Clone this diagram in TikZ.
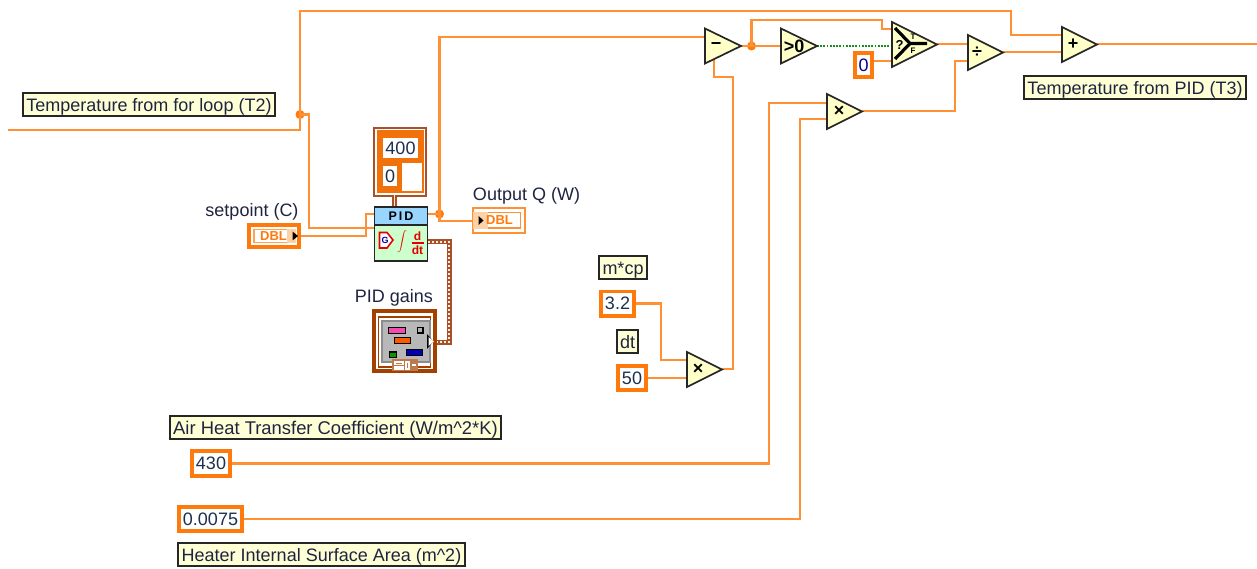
\documentclass[tikz,border=0pt]{standalone}
\usepackage{fontspec}
\setmainfont{Liberation Sans}
\definecolor{wire}{HTML}{FF9033}
\definecolor{orangeb}{HTML}{FF7A0D}
\definecolor{brownw}{HTML}{A8502A}
\definecolor{brownf}{HTML}{A34000}
\definecolor{labelbg}{HTML}{FFFFD6}
\definecolor{gatebg}{HTML}{FFFFC8}
\definecolor{inktext}{HTML}{1E2440}
\definecolor{numtext}{HTML}{1C3050}
\tikzset{
  wireline/.style={draw=wire,line width=2.4pt},
  boolline/.style={draw=green!50!black!90,line width=1.8pt,dash pattern=on 1.8pt off 1.4pt},
  clusterline/.style={draw=brownw,line width=5pt},
  clusterdots/.style={draw=white!85!orange,line width=1.8pt,dash pattern=on 2pt off 2pt},
  junction/.style={circle,fill=orangeb,draw=none,minimum size=9pt,inner sep=0pt},
  txt/.style={font=\fontsize{18}{20}\selectfont,text=inktext,inner sep=0pt,text height=15.5pt,text depth=2pt},
  labelbox/.style={txt,draw=black!85,line width=1.6pt,fill=labelbg,inner sep=0pt,minimum height=23.5pt},
  constbox/.style={font=\fontsize{18}{20}\selectfont,text=numtext,draw=orangeb,line width=3.6pt,fill=white,inner sep=0pt},
  gatebody/.style={draw=black!85,line width=1.7pt,fill=gatebg,line join=miter},
  gatesym/.style={font=\fontsize{18}{18}\selectfont\bfseries,text=black,inner sep=0pt},
  dblbox/.style={font=\fontsize{13}{14}\selectfont\bfseries,text=orangeb,inner sep=0pt},
}
\newcommand{\gatetri}[7]{%
  \coordinate (#1-nw) at (#2,#3-#5);
  \coordinate (#1-sw) at (#2,#3+#5);
  \coordinate (#1-out) at (#2+#4,#3);
  \draw[gatebody] (#1-nw) -- (#1-out) -- (#1-sw) -- cycle;
  \node[gatesym] (#1) at (#6,#3) {#7};
}
\begin{document}
\begin{tikzpicture}[x=1pt,y=-1pt]
\useasboundingbox (0,0) rectangle (1257,569);

% free ends and gate ports
\coordinate (inT) at (8,130);
\coordinate (outT) at (1257,44);
\coordinate (subA) at (705,37);
\coordinate (subB) at (714,58);
\coordinate (selA) at (892,29);
\coordinate (selB) at (892,46);
\coordinate (selC) at (892,61);
\coordinate (divA) at (968,44);
\coordinate (divB) at (968,61);
\coordinate (addA) at (1062,35);
\coordinate (addB) at (1062,52);
\coordinate (mulA) at (827,103);
\coordinate (mulB) at (827,119);
\coordinate (dtmA) at (687,360);
\coordinate (dtmB) at (687,378);
\coordinate (pidA) at (374,228);
\coordinate (pidB) at (374,214);
\coordinate (pidOut) at (428,214);
\coordinate (pidC) at (428,242);
\coordinate (gainOut) at (433,342);
\coordinate (spOut) at (298,236);
\coordinate (qIn) at (473,221);
\coordinate (rangeOut) at (394.5,195);
\coordinate (pidTop) at (394.5,208);

% junctions
\node[junction] (jT) at (300,114.5) {};
\node[junction] (jQ) at (439.5,214) {};
\node[junction] (jS) at (751.5,46) {};

% wires
\draw[wireline] (inT) -- (300,130) -- (jT.center) -- (300,11) -- (1011,11) -- (1011,35) -- (addA);
\draw[wireline] (jT.center) -- (309,114.5) -- (309,228) -- (pidA);
\draw[wireline] (spOut) -- (366,236) -- (366,214) -- (pidB);
\draw[wireline] (pidOut) -- (jQ.center) -- (439.5,37) -- (subA);
\draw[wireline] (jQ.center) -- (439.5,221) -- (qIn);
\draw[wireline] (751.5,46) -- (781,46);
\draw[wireline] (jS.center) -- (751.5,20) -- (882,20) -- (882,29) -- (selA);
\draw[wireline] (741,46) -- (jS.center);
\draw[wireline] (937,44) -- (divA);
\draw[wireline] (1003,52) -- (addB);
\draw[wireline] (1097,44) -- (outT);
\draw[wireline] (862,111) -- (955,111) -- (955,61) -- (divB);
\draw[wireline] (subB) -- (714,77) -- (733,77) -- (733,369) -- (722,369);
\draw[boolline] (817,46) -- (selB);

% constants (wires leave from their right sides)
\node[constbox,minimum width=38.4pt,minimum height=25.4pt] (c430) at (211,463.5) {430};
\node[constbox,minimum width=63.4pt,minimum height=24.4pt] (c0075) at (210.5,519) {0.0075};
\node[constbox,minimum width=33.4pt,minimum height=24.4pt] (c32) at (617.5,303.5) {3.2};
\node[constbox,minimum width=28.4pt,minimum height=24.4pt] (c50) at (632,378) {50};
\node[constbox,minimum width=17.4pt,minimum height=24.4pt,text=blue!55!black] (c0) at (863.5,65) {0};
\draw[wireline] (c430.east) -- (769,463.5) -- (769,103) -- (mulA);
\draw[wireline] (c0075.east) -- (800,519) -- (800,119) -- (mulB);
\draw[wireline] (c32.east) -- (661,303.5) -- (661,360) -- (dtmA);
\draw[wireline] (c50.east) -- (dtmB);
\draw[wireline] (c0.east |- selC) -- (selC);

% gates
\gatetri{sub}{705}{46}{36}{17.5}{716}{−}
\gatetri{gtz}{781}{46}{36}{17.5}{794}{>0}
\gatetri{sel}{892}{44.5}{45}{22.5}{905}{}
\gatetri{div}{968}{52.5}{35}{17.5}{977}{÷}
\gatetri{add}{1062}{44.5}{35}{17.5}{1073}{+}
\gatetri{mul}{827}{111.5}{35}{17.5}{839}{×}
\gatetri{dtm}{687}{369.5}{35}{17.5}{698}{×}

% select glyph
\draw[black,line width=3.2pt] (895,28) -- (910,43.5) -- (927,43.5);
\draw[black,line width=3.2pt] (895,59) -- (910,43.5);
\node[font=\fontsize{13}{14}\selectfont\bfseries,inner sep=0pt] (selQ) at (899.5,45) {?};
\node[font=\fontsize{8}{9}\selectfont\bfseries,inner sep=0pt] (selT) at (913,36.5) {T};
\node[font=\fontsize{8}{9}\selectfont\bfseries,inner sep=0pt] (selF) at (913,50.5) {F};

% labels
\node[labelbox,minimum width=252.5pt] (lT2) at (149,104.5) {Temperature from for loop (T2)};
\node[labelbox,minimum width=222.5pt] (lT3) at (1135,87.5) {Temperature from PID (T3)};
\node[labelbox,minimum width=331.5pt,font=\fontsize{18.4}{20}\selectfont] (lAir) at (335.5,427.5) {Air Heat Transfer Coefficient (W/m\string^2*K)};
\node[labelbox,minimum width=287.5pt] (lHeat) at (321.5,554.5) {Heater Internal Surface Area (m\string^2)};
\node[labelbox,minimum width=48.5pt] (lmcp) at (623,267.5) {m*cp};
\node[labelbox,minimum width=21.5pt] (ldt) at (627.5,341.5) {dt};
\node[txt] (lsp) at (252,210) {setpoint (C)};
\node[txt] (lQ) at (526.5,194) {Output Q (W)};
\node[txt] (lgain) at (394,296) {PID gains};

% range cluster
\node[draw=brownw,line width=1.6pt,fill=white,minimum width=52.5pt,minimum height=68.5pt,inner sep=0pt] (range) at (400,162) {};
\draw[clusterline] (rangeOut) -- (pidTop);
\draw[draw=white!80!orange,line width=1.6pt] (rangeOut) -- (pidTop);
\fill[orangeb!85!brownf] (376.5,130.5) rectangle (423.5,193.5);
\node[font=\fontsize{18}{20}\selectfont,text=numtext,fill=white,minimum width=35pt,minimum height=20pt,inner sep=0pt] (r400) at (400.5,148) {400};
\node[font=\fontsize{18}{20}\selectfont,text=numtext,fill=white,minimum width=14pt,minimum height=20pt,inner sep=0pt] (r0) at (390,176) {0};
\fill[white] (402,163) rectangle (421.5,191.5);

% PID vi
\node[draw=black!85,line width=1.6pt,fill=green!20!white,minimum width=53pt,minimum height=53.5pt,inner sep=0pt] (pid) at (401,234) {};
\node[draw=black!85,line width=1.6pt,fill=blue!40!cyan!40!white,minimum width=53pt,minimum height=18pt,inner sep=0pt,font=\fontsize{12.5}{13}\selectfont\bfseries,text=black] (pidH) at (401,216) {P\,I\,D};
\draw[red!90!black,line width=1.6pt,fill=white] (379.5,232.5) -- (387,232.5) -- (393,240) -- (387,248) -- (379.5,248) -- cycle;
\node[font=\fontsize{9}{10}\selectfont\bfseries,text=blue!70!black,inner sep=0pt] (pidG) at (385,240.5) {G};
\node[text=red!90!black,inner sep=0pt,font=\fontsize{19}{19}\selectfont] (pidI) at (402,242) {$\displaystyle\int$};
\node[text=red!90!black,inner sep=0pt,font=\fontsize{12}{13}\selectfont\bfseries] (pidD) at (417.5,236) {d};
\node[text=red!90!black,inner sep=0pt,font=\fontsize{12}{13}\selectfont\bfseries] (pidDt) at (417.5,250.5) {dt};
\draw[red!90!black,line width=1.3pt] (411.5,243) -- (423.5,243);

% cluster wire from gains to PID
\draw[clusterline] (pidC) -- (449,242) -- (449,342) -- (gainOut);
\draw[clusterdots] (pidC) -- (449,242) -- (449,342) -- (gainOut);

% setpoint terminal
\node[draw=orangeb,line width=3.6pt,fill=white,minimum width=50.4pt,minimum height=22.4pt,inner sep=0pt] (sp) at (274,236) {};
\draw[orangeb!70,line width=1.4pt] (254,229.5) rectangle (294,242.5);
\fill[orange!35] (287,229) rectangle (296,243);
\node[dblbox] (spT) at (273.5,236) {DBL};
\fill[black] (292.5,231.5) -- (298,236) -- (292.5,240.5) -- cycle;

% Output Q terminal
\node[draw=wire,line width=2pt,fill=white,minimum width=52pt,minimum height=25pt,inner sep=0pt] (qT) at (499,220.5) {};
\draw[wire,line width=1.4pt] (477.5,212.5) rectangle (520.5,228);
\fill[orange!35] (473,212) rectangle (488,229);
\node[dblbox] (qTT) at (499.5,220.5) {DBL};
\fill[black] (478.5,216) -- (483.5,220.5) -- (478.5,225) -- cycle;

% PID gains control icon
\node[draw=brownf,line width=4.2pt,fill=white,minimum width=60.8pt,minimum height=60pt,inner sep=0pt] (gains) at (404.5,341) {};
\draw[brownf,line width=1.6pt] (378.5,317) rectangle (430.5,367);
\fill[black!45] (380.5,320) rectangle (430.5,363);
\fill[black!28] (382.5,322) rectangle (429,361);
\draw[black,line width=1.1pt,fill=magenta!70!white] (388.5,327.5) rectangle (405.5,333.5);
\draw[black,line width=1.1pt,fill=black!30] (417.5,327.5) rectangle (423,333);
\draw[black,line width=1.1pt,fill=orange!70!red] (394.5,337.5) rectangle (410.5,343.5);
\draw[black,line width=1.1pt,fill=green!60!black] (389.5,352) rectangle (396.5,357.5);
\draw[black,line width=1.1pt,fill=blue!70!black] (406.5,349.5) rectangle (422.5,355.5);
\fill[brownf!70!white] (392,359) rectangle (417.5,371);
\draw[white,line width=1.1pt] (395,362) rectangle (403,364.5);
\draw[white,line width=1.1pt] (395,367) rectangle (403,369);
\draw[white,line width=1.1pt] (406,362) rectangle (409,369);
\draw[white,line width=1.1pt] (412,365) -- (416,365);
\fill[black] (427,334) -- (433.5,341.5) -- (427,349) -- cycle;
\fill[white] (428.5,337) -- (434,341.5) -- (428.5,346) -- cycle;
\end{tikzpicture}
\end{document}
